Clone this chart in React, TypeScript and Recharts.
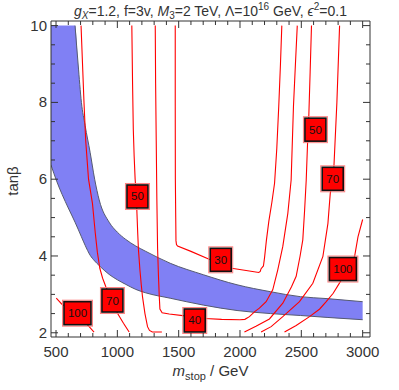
import React from 'react';
import { ComposedChart, Line, Area, Scatter, XAxis, YAxis } from 'recharts';

const FRAME = '#333';
const FONT = '"Liberation Sans", Arial, sans-serif';

const xTicks = [500, 600, 700, 800, 900, 1000, 1100, 1200, 1300, 1400, 1500, 1600, 1700, 1800, 1900, 2000, 2100, 2200, 2300, 2400, 2500, 2600, 2700, 2800, 2900, 3000];
const yTicks = [2, 2.5, 3, 3.5, 4, 4.5, 5, 5.5, 6, 6.5, 7, 7.5, 8, 8.5, 9, 9.5, 10];
const xMajor = [500, 1000, 1500, 2000, 2500, 3000];
const yMajor = [2, 4, 6, 8, 10];

// allowed band (blue), read at these stop masses
const bandX = [459, 505, 550, 600, 655, 680, 707, 737, 778, 815, 852, 933, 1000, 1069, 1150, 1232, 1431, 1703, 1976, 2248, 2493, 2710, 3000];
const bandHigh = [10, 10, 10, 10, 10, 9.0, 8.0, 7.4, 6.7, 6.0, 5.46, 4.88, 4.62, 4.43, 4.26, 4.12, 3.81, 3.51, 3.25, 3.07, 2.94, 2.89, 2.81];
const bandLow = [6.37, 5.95, 5.6, 5.25, 4.88, 4.7, 4.5, 4.28, 4.02, 3.87, 3.75, 3.52, 3.38, 3.26, 3.13, 3.04, 2.9, 2.72, 2.58, 2.5, 2.45, 2.4, 2.34];

// fine-tuning contours [m_stop, tanb]
const c100L: [number, number][] = [[502, 2.9], [546, 2.75], [675, 2.48], [770, 2.16], [810, 2.02]];
const c70L: [number, number][] = [[704, 10], [716, 9], [728, 8], [742, 7], [765, 6], [797, 5.37], [820, 4.6], [837, 4.1], [857, 3.68], [880, 3.42], [906, 3.2], [960, 2.84], [1001, 2.51], [1050, 2.25], [1096, 2.02]];
const c50L: [number, number][] = [[1118, 10], [1124, 8.5], [1130, 7.3], [1137, 6.6], [1145, 6.0], [1155, 5.55], [1160, 5.1], [1166, 4.6], [1172, 4.16], [1184, 3.64], [1195, 3.25], [1205, 2.94], [1225, 2.5], [1246, 2.16], [1262, 2.06], [1285, 2.02], [1363, 2.02]];
const c40: [number, number][] = [[1309, 10], [1312, 8.5], [1317, 7], [1322, 5.5], [1328, 4.2], [1335, 3.5], [1341, 3.0], [1347, 2.62], [1365, 2.52], [1423, 2.49], [1550, 2.44], [1631, 2.41], [1717, 2.37], [1850, 2.35], [2000, 2.34], [2040, 2.35], [2077, 2.42], [2120, 2.55], [2158, 2.64], [2213, 2.81], [2267, 3.12], [2308, 3.64], [2349, 4.25], [2390, 5.11], [2417, 5.98], [2436, 7.9], [2452, 9], [2467, 10]];
const c30: [number, number][] = [[1472, 10], [1472, 8], [1473, 6], [1476, 5], [1478, 4.4], [1482, 4.3], [1491, 4.26], [1600, 4.12], [1744, 3.92], [1843, 3.8], [1932, 3.68], [2050, 3.62], [2153, 3.57], [2165, 3.6], [2172, 3.67], [2191, 3.74], [2200, 3.95], [2215, 4.4], [2235, 4.9], [2260, 5.4], [2282, 5.9], [2300, 6.8], [2316, 7.9], [2330, 9], [2341, 10]];
const c50R: [number, number][] = [[2036, 2.02], [2130, 2.17], [2240, 2.36], [2349, 2.77], [2420, 3.2], [2458, 3.47], [2490, 4.0], [2512, 4.42], [2527, 5.2], [2540, 5.98], [2551, 6.95], [2561, 7.63], [2572, 8.8], [2583, 10]];
const c70R: [number, number][] = [[2172, 2.02], [2254, 2.16], [2349, 2.42], [2485, 2.81], [2594, 3.29], [2676, 3.99], [2717, 4.85], [2736, 5.63], [2756, 6.0], [2766, 6.34], [2790, 8.0], [2812, 10]];
const c100R: [number, number][] = [[2363, 2.02], [2458, 2.19], [2567, 2.42], [2650, 2.62], [2703, 2.81], [2760, 3.03], [2812, 3.3], [2876, 3.64], [2935, 4.0], [2962, 4.5], [3000, 4.95]];

const contours = [c100L, c70L, c50L, c40, c30, c50R, c70R, c100R];

// contour labels
const labelX = [675, 960, 1164, 1631, 1843, 2615, 2756, 2839];
const labelY = [2.51, 2.84, 5.55, 2.32, 3.9, 7.29, 6.01, 3.66];
const labelText = ['100', '70', '50', '40', '30', '50', '70', '100'];

const bandData = bandX.map((x, i) => ({ x, band: [bandLow[i], bandHigh[i]] }));
const upperEdge = bandX.map((x, i) => ({ x, y: bandHigh[i] })).filter((d) => d.x >= 655);
const lowerEdge = bandX.map((x, i) => ({ x, y: bandLow[i] }));
const labelData = labelX.map((x, i) => ({ x, y: labelY[i], t: labelText[i] }));

const tickText = { fontFamily: FONT, fontSize: 15, fill: '#333' };

const BottomTick = (p: any) => {
  const v = p.payload.value;
  const major = xMajor.includes(v);
  return (
    <g>
      <line x1={p.x} x2={p.x} y1={p.y} y2={p.y - (major ? 7 : 4)} stroke={FRAME} />
      {major && (
        <text x={p.x} y={p.y + 20} textAnchor="middle" {...tickText}>{v}</text>
      )}
    </g>
  );
};

const TopTick = (p: any) => {
  const major = xMajor.includes(p.payload.value);
  return <line x1={p.x} x2={p.x} y1={p.y} y2={p.y + (major ? 7 : 4)} stroke={FRAME} />;
};

const LeftTick = (p: any) => {
  const v = p.payload.value;
  const major = yMajor.includes(v);
  return (
    <g>
      <line x1={p.x} x2={p.x + (major ? 7 : 4)} y1={p.y} y2={p.y} stroke={FRAME} />
      {major && (
        <text x={p.x - 4} y={p.y + 5} textAnchor="end" {...tickText}>{v}</text>
      )}
    </g>
  );
};

const RightTick = (p: any) => {
  const major = yMajor.includes(p.payload.value);
  return <line x1={p.x} x2={p.x - (major ? 7 : 4)} y1={p.y} y2={p.y} stroke={FRAME} />;
};

const ContourLabel = (p: any) => {
  const t = p.payload.t;
  const w = t.length > 2 ? 27 : 21;
  const h = 23;
  return (
    <g>
      <rect x={p.cx - w / 2 - 1.5} y={p.cy - h / 2 - 1.5} width={w + 3} height={h + 3} fill="none" stroke="#ff8080" strokeWidth={1} />
      <rect x={p.cx - w / 2} y={p.cy - h / 2} width={w} height={h} fill="#ff0000" stroke="#111" strokeWidth={1.6} />
      <text x={p.cx} y={p.cy + 4} textAnchor="middle" fontFamily={FONT} fontSize={11.5} fill="#111">{t}</text>
    </g>
  );
};

export default function App() {
  return (
    <div style={{ position: 'absolute', left: 0, top: 0, width: 399, height: 390, background: '#fff', fontFamily: FONT }}>
      <ComposedChart width={399} height={390} margin={{ top: 0, right: 0, bottom: 0, left: 0 }}>
        <XAxis dataKey="x" type="number" domain={[459, 3060]} allowDataOverflow ticks={xTicks} interval={0}
          tickSize={0} tickMargin={0} height={53} stroke={FRAME} tick={BottomTick} />
        <XAxis xAxisId="t" orientation="top" dataKey="x" type="number" domain={[459, 3060]} allowDataOverflow ticks={xTicks} interval={0}
          tickSize={0} tickMargin={0} height={21} stroke={FRAME} tick={TopTick} />
        <YAxis type="number" domain={[1.89, 10.12]} allowDataOverflow ticks={yTicks} interval={0}
          tickSize={0} tickMargin={0} width={51} stroke={FRAME} tick={LeftTick} />
        <YAxis yAxisId="r" orientation="right" type="number" domain={[1.89, 10.12]} allowDataOverflow ticks={yTicks} interval={0}
          tickSize={0} tickMargin={0} width={29} stroke={FRAME} tick={RightTick} />
        <Area data={bandData} dataKey="band" type="monotone" fill="#8080f4" fillOpacity={1} stroke="none" isAnimationActive={false} />
        <Line data={upperEdge} dataKey="y" type="monotone" stroke="#555a70" strokeWidth={1} dot={false} activeDot={false} isAnimationActive={false} />
        <Line data={lowerEdge} dataKey="y" type="monotone" stroke="#555a70" strokeWidth={1} dot={false} activeDot={false} isAnimationActive={false} />
        {contours.map((c, i) => (
          <Line key={i} data={c.map(([x, y]) => ({ x, y }))} dataKey="y" type="linear" stroke="#ff0000" strokeWidth={1.1}
            dot={false} activeDot={false} isAnimationActive={false} />
        ))}
        <Scatter data={labelData} dataKey="y" shape={ContourLabel} isAnimationActive={false} />
      </ComposedChart>
      <div style={{ position: 'absolute', left: 51, top: 1, width: 319, textAlign: 'center', fontSize: 14, color: '#333', whiteSpace: 'nowrap' }}>
        <i>g</i><sub style={{ fontSize: 10 }}><i>X</i></sub>=1.2, f=3v, <i>M</i><sub style={{ fontSize: 10 }}>3</sub>=2 TeV, Λ=10<sup style={{ fontSize: 10 }}>16</sup> GeV, <i>ϵ</i><sup style={{ fontSize: 10 }}>2</sup>=0.1
      </div>
      <div style={{ position: 'absolute', left: 51, top: 362, width: 319, textAlign: 'center', fontSize: 15, lineHeight: '17px', color: '#333', whiteSpace: 'nowrap' }}>
        <i>m</i><sub style={{ fontSize: 11 }}>stop</sub> / GeV
      </div>
      <div style={{ position: 'absolute', left: 12, top: 181, width: 0, height: 0 }}>
        <div style={{ position: 'absolute', transform: 'translate(-50%, -50%) rotate(-90deg)', fontSize: 15, color: '#333', whiteSpace: 'nowrap' }}>
          tanβ
        </div>
      </div>
    </div>
  );
}
